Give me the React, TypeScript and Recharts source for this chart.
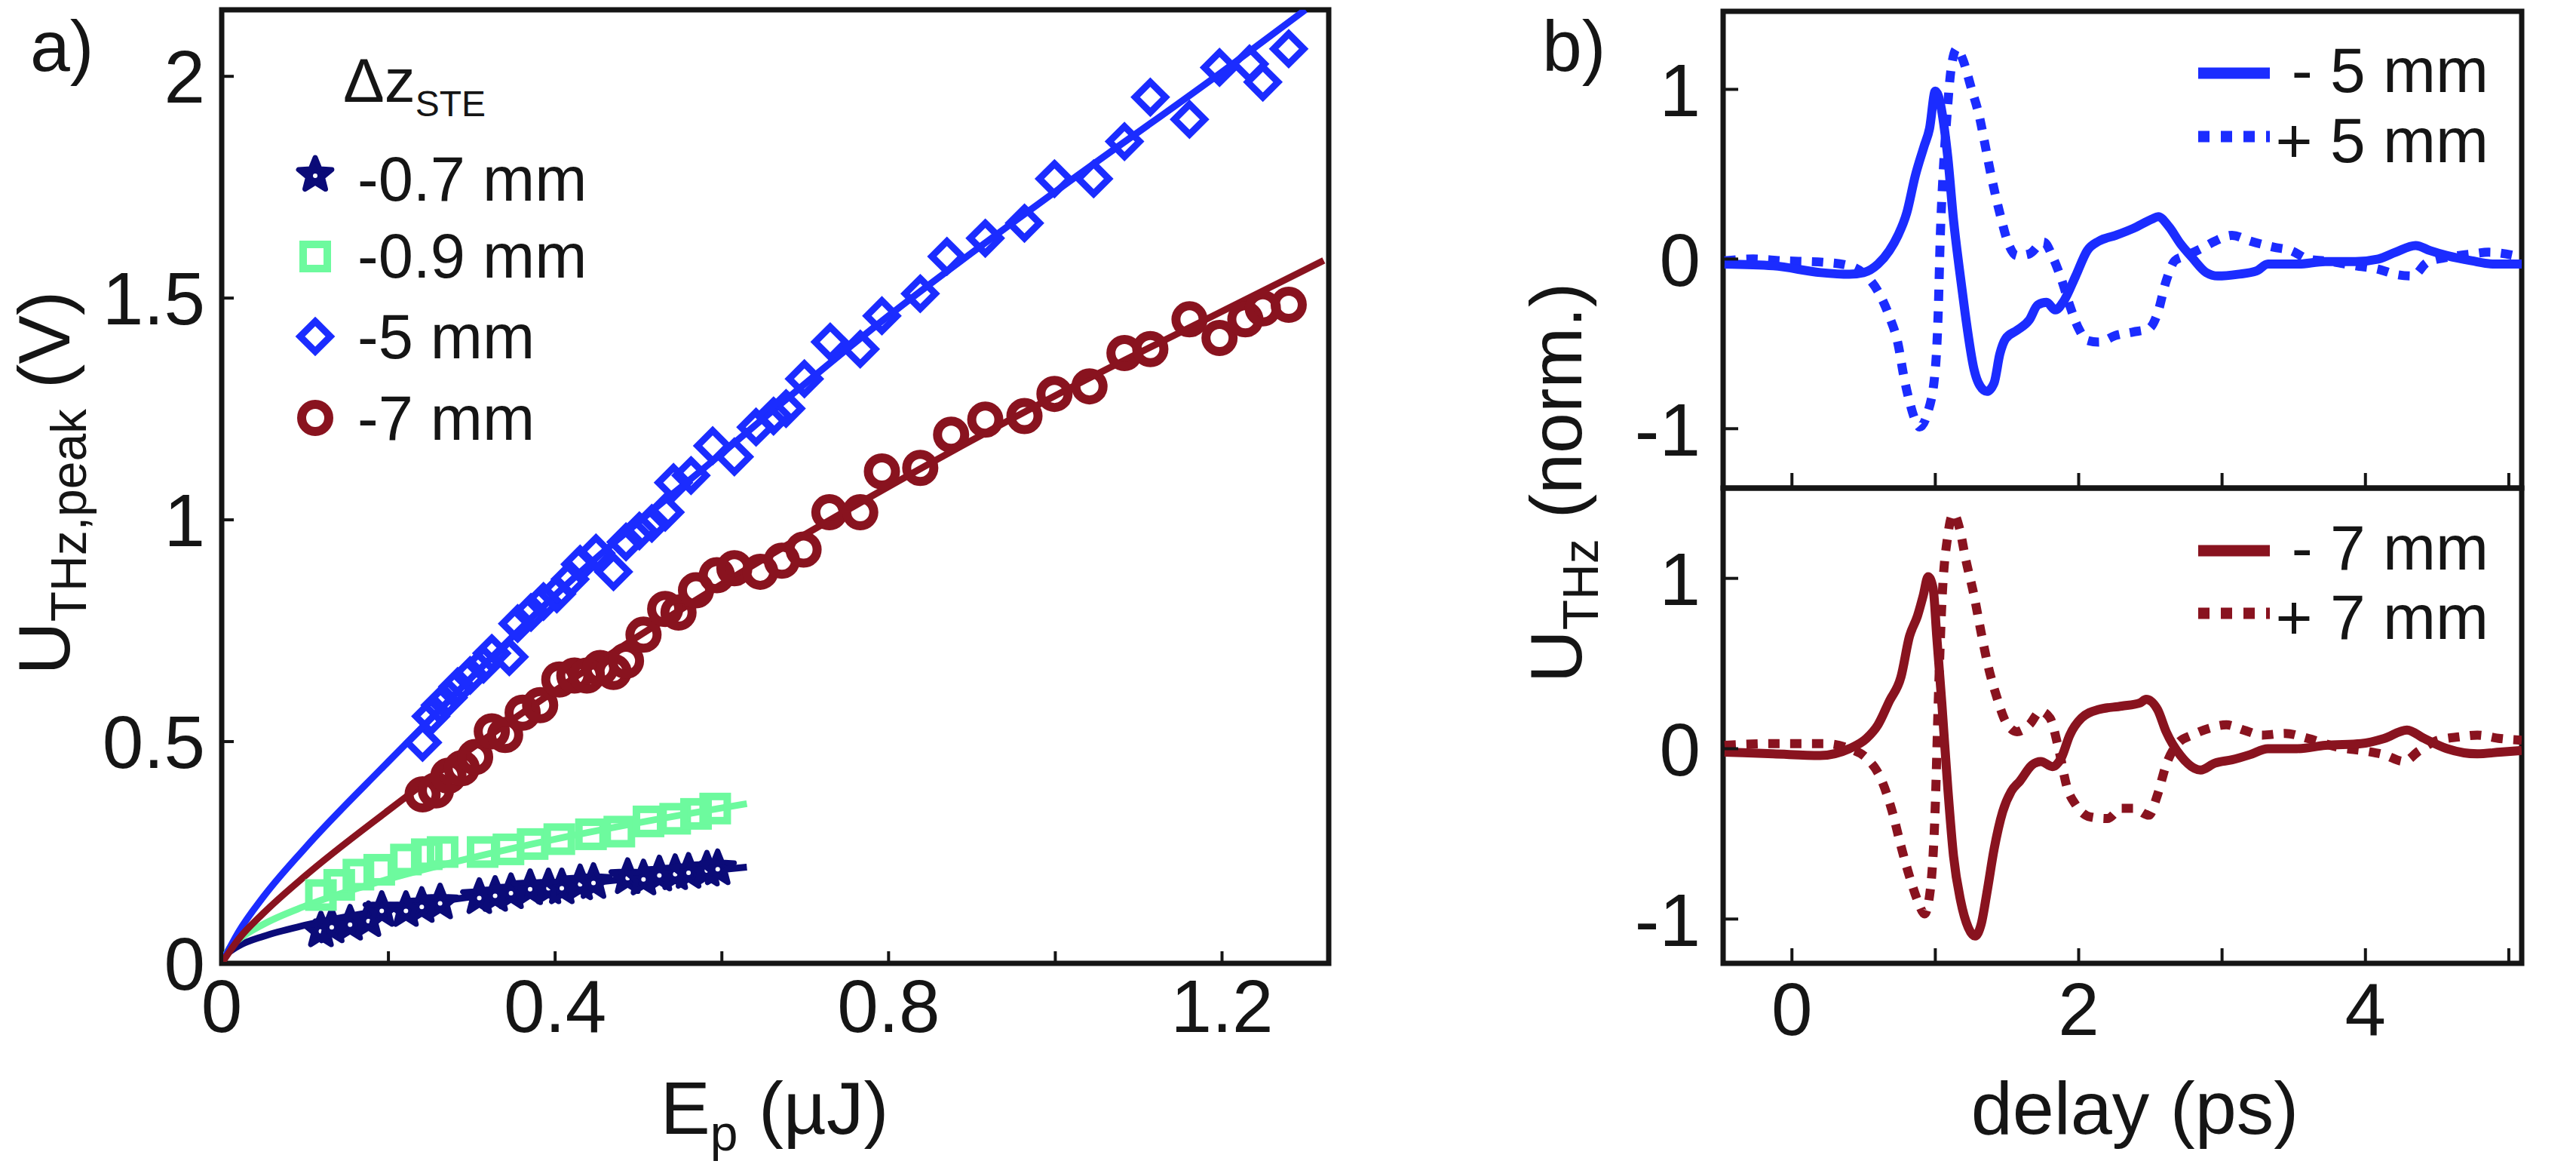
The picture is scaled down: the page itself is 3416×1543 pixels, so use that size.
import React from "react";
import { ComposedChart, Scatter, Line, XAxis, YAxis, ReferenceArea } from "recharts";

const W = 3416;
const H = 1543;
const FONT = '"Liberation Sans", Arial, Helvetica, sans-serif';
const INK = "#151515";
const NAVY = "#0b0b78";
const GREEN = "#6dfa9e";
const BLUE = "#1b2cff";
const RED = "#89131f";

// panel a: measured peak voltage vs pump energy (E_p in µJ, U in V)
const stars07 = [
  [0.119, 0.074], [0.132, 0.083], [0.154, 0.089], [0.176, 0.097], [0.192, 0.12], [0.221, 0.12],
  [0.24, 0.129], [0.262, 0.137], [0.309, 0.149], [0.328, 0.154], [0.347, 0.16], [0.37, 0.169],
  [0.392, 0.171], [0.408, 0.171], [0.43, 0.18], [0.446, 0.183], [0.487, 0.194], [0.506, 0.191],
  [0.525, 0.2], [0.544, 0.203], [0.56, 0.206], [0.582, 0.211], [0.595, 0.214],
];
const squares09 = [
  [0.119, 0.154], [0.141, 0.177], [0.164, 0.2], [0.189, 0.211], [0.221, 0.234], [0.246, 0.246],
  [0.265, 0.251], [0.313, 0.251], [0.344, 0.257], [0.373, 0.269], [0.405, 0.28], [0.443, 0.291],
  [0.477, 0.297], [0.512, 0.32], [0.544, 0.326], [0.569, 0.337], [0.592, 0.349],
];
const diamonds5 = [
  [0.241, 0.498], [0.251, 0.557], [0.262, 0.582], [0.272, 0.599], [0.283, 0.624], [0.298, 0.649],
  [0.314, 0.674], [0.324, 0.699], [0.345, 0.691], [0.355, 0.766], [0.371, 0.791], [0.386, 0.816],
  [0.402, 0.833], [0.418, 0.866], [0.43, 0.9], [0.449, 0.925], [0.47, 0.883], [0.485, 0.95],
  [0.501, 0.975], [0.516, 0.992], [0.532, 1.017], [0.542, 1.084], [0.563, 1.1], [0.589, 1.167],
  [0.615, 1.142], [0.641, 1.209], [0.662, 1.234], [0.677, 1.251], [0.699, 1.318], [0.73, 1.401],
  [0.766, 1.385], [0.792, 1.46], [0.838, 1.51], [0.87, 1.594], [0.916, 1.635], [0.963, 1.669],
  [0.999, 1.769], [1.046, 1.769], [1.083, 1.853], [1.114, 1.953], [1.161, 1.903], [1.197, 2.02],
  [1.233, 2.028], [1.249, 1.987], [1.28, 2.062],
];
const circles7 = [
  [0.241, 0.381], [0.257, 0.39], [0.272, 0.423], [0.288, 0.44], [0.304, 0.465], [0.324, 0.523],
  [0.34, 0.515], [0.361, 0.565], [0.382, 0.582], [0.405, 0.64], [0.423, 0.649], [0.438, 0.649],
  [0.454, 0.666], [0.47, 0.657], [0.485, 0.682], [0.506, 0.741], [0.532, 0.799], [0.548, 0.791],
  [0.569, 0.841], [0.594, 0.875], [0.615, 0.891], [0.646, 0.883], [0.672, 0.908], [0.698, 0.933],
  [0.729, 1.017], [0.766, 1.017], [0.792, 1.109], [0.838, 1.117], [0.875, 1.192], [0.916, 1.226],
  [0.963, 1.234], [0.999, 1.284], [1.041, 1.301], [1.083, 1.376], [1.114, 1.385], [1.161, 1.452],
  [1.197, 1.41], [1.228, 1.452], [1.249, 1.477], [1.28, 1.485],
];

// fit curves
const fit07 = [[0, 0], [0.005, 0.019], [0.01, 0.027], [0.02, 0.039], [0.05, 0.061], [0.1, 0.086], [0.2, 0.122], [0.3, 0.15], [0.4, 0.173], [0.5, 0.193], [0.63, 0.217]];
const fit09 = [[0, 0], [0.01, 0.036], [0.02, 0.053], [0.05, 0.088], [0.1, 0.129], [0.2, 0.19], [0.3, 0.238], [0.4, 0.28], [0.5, 0.317], [0.63, 0.36]];
const fit5 = [[0, 0], [0.02, 0.07], [0.05, 0.15], [0.1, 0.26], [0.2, 0.455], [0.3, 0.645], [0.4, 0.83], [0.6, 1.15], [0.8, 1.46], [1.0, 1.74], [1.2, 2.01], [1.3, 2.15]];
const fit7 = [[0, 0], [0.02, 0.054], [0.05, 0.113], [0.1, 0.197], [0.2, 0.345], [0.3, 0.485], [0.4, 0.615], [0.6, 0.855], [0.8, 1.075], [1.0, 1.28], [1.2, 1.47], [1.322, 1.585]];

// panel b: normalized THz traces (delay in ps)
const minus5 = [
  [-0.47, -0.03], [-0.13, -0.04], [0.2, -0.08], [0.4, -0.09], [0.5, -0.08], [0.6, -0.03], [0.68, 0.05],
  [0.74, 0.14], [0.8, 0.27], [0.86, 0.49], [0.92, 0.66], [0.96, 0.77], [1.0, 0.99], [1.087, 0.6],
  [1.127, 0.23], [1.168, -0.06], [1.208, -0.32], [1.27, -0.65], [1.31, -0.745], [1.36, -0.78],
  [1.41, -0.73], [1.45, -0.56], [1.49, -0.47], [1.57, -0.42], [1.655, -0.36], [1.715, -0.27],
  [1.776, -0.255], [1.837, -0.3], [1.898, -0.245], [1.979, -0.1], [2.06, 0.05], [2.14, 0.105],
  [2.26, 0.14], [2.38, 0.18], [2.51, 0.235], [2.555, 0.25], [2.63, 0.19], [2.71, 0.09], [2.79, 0.01],
  [2.89, -0.08], [2.97, -0.1], [3.11, -0.09], [3.24, -0.07], [3.32, -0.03], [3.52, -0.03],
  [3.72, -0.015], [3.93, -0.015], [4.09, 0.0], [4.21, 0.04], [4.35, 0.08], [4.45, 0.05],
  [4.57, 0.02], [4.74, -0.01], [4.9, -0.03], [5.09, -0.03],
];
const plus5 = [
  [-0.47, -0.01], [-0.27, 0.0], [-0.07, -0.01], [0.235, -0.02], [0.4, -0.04], [0.52, -0.1], [0.6, -0.19],
  [0.68, -0.34], [0.74, -0.5], [0.78, -0.69], [0.82, -0.84], [0.86, -0.95], [0.89, -0.99], [0.945, -0.91],
  [1.0, -0.65], [1.02, -0.32], [1.035, 0.14], [1.055, 0.51], [1.08, 0.83], [1.11, 1.12], [1.15, 1.24],
  [1.19, 1.18], [1.25, 1.01], [1.31, 0.83], [1.35, 0.66], [1.39, 0.49], [1.45, 0.27], [1.51, 0.09],
  [1.57, 0.02], [1.655, 0.03], [1.755, 0.1], [1.82, 0.01], [1.88, -0.12], [1.94, -0.28], [2.0, -0.41],
  [2.06, -0.48], [2.14, -0.49], [2.26, -0.45], [2.38, -0.43], [2.49, -0.41], [2.55, -0.32],
  [2.61, -0.13], [2.67, -0.01], [2.75, 0.02], [2.85, 0.06], [2.95, 0.105], [3.07, 0.14], [3.2, 0.105],
  [3.36, 0.07], [3.48, 0.05], [3.6, 0.0], [3.76, -0.015], [3.93, -0.04], [4.09, -0.06], [4.21, -0.09],
  [4.33, -0.1], [4.43, -0.02], [4.57, 0.01], [4.74, 0.03], [4.86, 0.04], [4.98, 0.03], [5.09, 0.01],
];
const minus7 = [
  [-0.47, -0.02], [-0.13, -0.03], [0.195, -0.04], [0.4, 0.0], [0.52, 0.06], [0.6, 0.14], [0.68, 0.28],
  [0.76, 0.42], [0.82, 0.66], [0.876, 0.78], [0.916, 0.9], [0.95, 1.01], [0.985, 0.94], [1.01, 0.66],
  [1.046, 0.26], [1.087, -0.23], [1.127, -0.63], [1.176, -0.89], [1.23, -1.05], [1.277, -1.1],
  [1.32, -1.03], [1.363, -0.83], [1.41, -0.59], [1.47, -0.37], [1.53, -0.25], [1.59, -0.19],
  [1.675, -0.095], [1.736, -0.075], [1.817, -0.105], [1.878, -0.055], [1.938, 0.08], [2.02, 0.18],
  [2.14, 0.23], [2.3, 0.25], [2.43, 0.27], [2.47, 0.29], [2.55, 0.23], [2.61, 0.1], [2.71, -0.04],
  [2.85, -0.125], [2.95, -0.085], [3.07, -0.065], [3.195, -0.035], [3.32, 0.0], [3.52, 0.0],
  [3.72, 0.02], [3.97, 0.03], [4.13, 0.06], [4.29, 0.11], [4.41, 0.06], [4.57, 0.0], [4.78, -0.03],
  [4.94, -0.02], [5.09, -0.01],
];
const plus7 = [
  [-0.47, 0.02], [-0.13, 0.03], [0.235, 0.03], [0.4, 0.0], [0.52, -0.055], [0.62, -0.175], [0.7, -0.37],
  [0.76, -0.57], [0.82, -0.75], [0.876, -0.89], [0.925, -0.97], [0.965, -0.83], [1.0, -0.33], [1.02, 0.26],
  [1.046, 0.86], [1.087, 1.25], [1.127, 1.38], [1.17, 1.29], [1.21, 1.12], [1.27, 0.9], [1.32, 0.68],
  [1.37, 0.48], [1.43, 0.3], [1.49, 0.16], [1.57, 0.1], [1.655, 0.14], [1.735, 0.22], [1.8, 0.18],
  [1.86, 0.0], [1.92, -0.23], [1.98, -0.33], [2.08, -0.4], [2.2, -0.41], [2.3, -0.35], [2.38, -0.35],
  [2.49, -0.39], [2.55, -0.27], [2.61, -0.095], [2.69, 0.03], [2.79, 0.08], [2.91, 0.12], [3.03, 0.14],
  [3.15, 0.11], [3.28, 0.08], [3.44, 0.09], [3.6, 0.06], [3.8, 0.01], [4.01, -0.015], [4.13, -0.035],
  [4.27, -0.075], [4.37, -0.015], [4.49, 0.045], [4.655, 0.07], [4.78, 0.08], [4.94, 0.06], [5.09, 0.05],
];

const xTicksA = [0, 0.2, 0.4, 0.6, 0.8, 1.0, 1.2];
const xLabelsA = [0, 0.4, 0.8, 1.2];
const yTicksA = [0, 0.5, 1, 1.5, 2];
const xTicksB = [0, 1, 2, 3, 4, 5];
const xLabelsB = [0, 2, 4];
const yTicksB = [-1, 0, 1];

const pts = (a: number[][]) => a.map(([x, y]) => ({ x, y }));

const txt = { fontFamily: FONT, fill: INK };

function BottomTick(props: any) {
  const { x, y, payload, len, labels, offset } = props;
  const v = payload.value;
  const show = labels.some((l: number) => Math.abs(l - v) < 1e-9);
  return (
    <g>
      <line x1={x} x2={x} y1={y} y2={y - len} stroke={INK} strokeWidth={4} />
      {show && (
        <text x={x} y={y + offset} textAnchor="middle" fontSize={98} {...txt}>
          {String(v)}
        </text>
      )}
    </g>
  );
}

function LeftTick(props: any) {
  const { x, y, payload, len, gap } = props;
  return (
    <g>
      <line x1={x} x2={x + len} y1={y} y2={y} stroke={INK} strokeWidth={4} />
      <text x={x - gap} y={y} dy="0.36em" textAnchor="end" fontSize={98} {...txt}>
        {String(payload.value)}
      </text>
    </g>
  );
}

function starPath(cx: number, cy: number, R: number, r: number) {
  let d = "";
  for (let i = 0; i < 10; i++) {
    const a = -Math.PI / 2 + (i * Math.PI) / 5;
    const rad = i % 2 === 0 ? R : r;
    d += (i === 0 ? "M" : "L") + (cx + rad * Math.cos(a)).toFixed(1) + "," + (cy + rad * Math.sin(a)).toFixed(1);
  }
  return d + "Z";
}

const Star = ({ cx, cy }: any) => (
  <g>
    <path d={starPath(cx, cy, 23, 10)} fill={NAVY} stroke={NAVY} strokeWidth={7} strokeLinejoin="round" />
    <circle cx={cx} cy={cy + 1} r={3} fill="#fff" />
  </g>
);
const Square = ({ cx, cy }: any) => (
  <rect x={cx - 16} y={cy - 16} width={32} height={32} fill="none" stroke={GREEN} strokeWidth={10} />
);
const Diamond = ({ cx, cy }: any) => (
  <path d={`M${cx},${cy - 20}L${cx + 20},${cy}L${cx},${cy + 20}L${cx - 20},${cy}Z`} fill="none" stroke={BLUE} strokeWidth={9} />
);
const Ring = ({ cx, cy }: any) => <circle cx={cx} cy={cy} r={18} fill="none" stroke={RED} strokeWidth={12} />;

const layer: React.CSSProperties = { position: "absolute", left: 0, top: 0 };

function PanelA() {
  const dom: [number, number] = [0, 1.328];
  const yDom: [number, number] = [0, 2.15];
  return (
    <div style={layer}>
      <ComposedChart width={W} height={H} margin={{ top: 13, right: 1654, bottom: 0, left: 0 }}>
        <XAxis
          type="number" dataKey="x" domain={dom} allowDataOverflow ticks={xTicksA} interval={0}
          height={266} axisLine={false} tickLine={false} tickSize={0} tickMargin={0}
          tick={(p: any) => <BottomTick {...p} len={16} labels={xLabelsA} offset={91} />}
        />
        <YAxis
          type="number" dataKey="y" domain={yDom} allowDataOverflow ticks={yTicksA} interval={0}
          width={294} axisLine={false} tickLine={false} tickSize={0} tickMargin={0}
          tick={(p: any) => <LeftTick {...p} len={16} gap={22} />}
        />
        <Scatter data={pts(stars07)} isAnimationActive={false} shape={(p: any) => <Star cx={p.cx} cy={p.cy} />} />
        <Scatter data={pts(squares09)} isAnimationActive={false} shape={(p: any) => <Square cx={p.cx} cy={p.cy} />} />
        <Scatter data={pts(diamonds5)} isAnimationActive={false} shape={(p: any) => <Diamond cx={p.cx} cy={p.cy} />} />
        <Scatter data={pts(circles7)} isAnimationActive={false} shape={(p: any) => <Ring cx={p.cx} cy={p.cy} />} />
        <Line data={pts(fit07)} dataKey="y" type="monotone" stroke={NAVY} strokeWidth={9} dot={false} activeDot={false} isAnimationActive={false} />
        <Line data={pts(fit09)} dataKey="y" type="monotone" stroke={GREEN} strokeWidth={9} dot={false} activeDot={false} isAnimationActive={false} />
        <Line data={pts(fit5)} dataKey="y" type="monotone" stroke={BLUE} strokeWidth={9} dot={false} activeDot={false} isAnimationActive={false} />
        <Line data={pts(fit7)} dataKey="y" type="monotone" stroke={RED} strokeWidth={9} dot={false} activeDot={false} isAnimationActive={false} />
        <ReferenceArea x1={dom[0]} x2={dom[1]} y1={yDom[0]} y2={yDom[1]} fill="none" fillOpacity={0} stroke={INK} strokeWidth={7} ifOverflow="visible" />
      </ComposedChart>
    </div>
  );
}

function Trace({ top, bottomPad, yDom, labels, solid, dotted, color }: any) {
  const dom: [number, number] = [-0.48, 5.09];
  return (
    <div style={layer}>
      <ComposedChart width={W} height={H} margin={{ top, right: 72, bottom: 0, left: 0 }}>
        <XAxis
          type="number" dataKey="x" domain={dom} allowDataOverflow ticks={xTicksB} interval={0}
          height={bottomPad} axisLine={false} tickLine={false} tickSize={0} tickMargin={0}
          tick={(p: any) => <BottomTick {...p} len={20} labels={labels} offset={95} />}
        />
        <YAxis
          type="number" dataKey="y" domain={yDom} allowDataOverflow ticks={yTicksB} interval={0}
          width={2285} axisLine={false} tickLine={false} tickSize={0} tickMargin={0}
          tick={(p: any) => <LeftTick {...p} len={20} gap={30} />}
        />
        <Line data={pts(dotted)} dataKey="y" type="monotone" stroke={color} strokeWidth={12} strokeDasharray="15 14" dot={false} activeDot={false} isAnimationActive={false} />
        <Line data={pts(solid)} dataKey="y" type="monotone" stroke={color} strokeWidth={12} strokeLinejoin="round" dot={false} activeDot={false} isAnimationActive={false} />
        <ReferenceArea x1={dom[0]} x2={dom[1]} y1={yDom[0]} y2={yDom[1]} fill="none" fillOpacity={0} stroke={INK} strokeWidth={7} ifOverflow="visible" />
      </ComposedChart>
    </div>
  );
}

function Texts() {
  const legA = [
    { label: "-0.7 mm", M: Star, cy: 232, base: 266 },
    { label: "-0.9 mm", M: Square, cy: 340, base: 368 },
    { label: "-5 mm", M: Diamond, cy: 446, base: 475 },
    { label: "-7 mm", M: Ring, cy: 554, base: 583 },
  ];
  const legB = [
    { label: "- 5 mm", color: BLUE, dash: undefined, ly: 97, base: 122 },
    { label: "+ 5 mm", color: BLUE, dash: "15 15", ly: 181, base: 215 },
    { label: "- 7 mm", color: RED, dash: undefined, ly: 730, base: 755 },
    { label: "+ 7 mm", color: RED, dash: "15 15", ly: 813, base: 847 },
  ];
  return (
    <svg width={W} height={H} style={{ ...layer, pointerEvents: "none" }}>
      <text x={40} y={94} fontSize={95} {...txt}>a)</text>
      <text x={2045} y={94} fontSize={95} {...txt}>b)</text>

      <text x={1027} y={1503} textAnchor="middle" fontSize={99} {...txt}>
        E<tspan fontSize={66} dy={22}>p</tspan><tspan dy={-22}> (µJ)</tspan>
      </text>
      <text x={2831} y={1503} textAnchor="middle" fontSize={99} {...txt}>delay (ps)</text>

      <text transform="translate(92,640) rotate(-90)" textAnchor="middle" fontSize={97} {...txt}>
        U<tspan fontSize={66} dy={22}>THz,peak</tspan><tspan dy={-22}> (V)</tspan>
      </text>
      <text transform="translate(2097,640) rotate(-90)" textAnchor="middle" fontSize={97} {...txt}>
        U<tspan fontSize={66} dy={22}>THz</tspan><tspan dy={-22}> (norm.)</tspan>
      </text>

      <text x={455} y={135} fontSize={82} {...txt}>
        Δz<tspan fontSize={48} dy={19}>STE</tspan>
      </text>
      {legA.map(({ label, M, cy, base }) => (
        <g key={label}>
          <M cx={418} cy={cy} />
          <text x={474} y={base} fontSize={83} {...txt}>{label}</text>
        </g>
      ))}

      {legB.map(({ label, color, dash, ly, base }) => (
        <g key={label}>
          <line x1={2915} x2={3010} y1={ly} y2={ly} stroke={color} strokeWidth={15} strokeDasharray={dash} />
          <text x={3300} y={base} textAnchor="end" fontSize={84} {...txt}>{label}</text>
        </g>
      ))}
    </svg>
  );
}

export default function App() {
  return (
    <div style={{ position: "absolute", left: 0, top: 0, width: W, height: H, background: "#fff", overflow: "hidden" }}>
      <PanelA />
      <Trace top={15} bottomPad={896} yDom={[-1.35, 1.46]} labels={[]} solid={minus5} dotted={plus5} color={BLUE} />
      <Trace top={647} bottomPad={266} yDom={[-1.26, 1.53]} labels={xLabelsB} solid={minus7} dotted={plus7} color={RED} />
      <Texts />
    </div>
  );
}
